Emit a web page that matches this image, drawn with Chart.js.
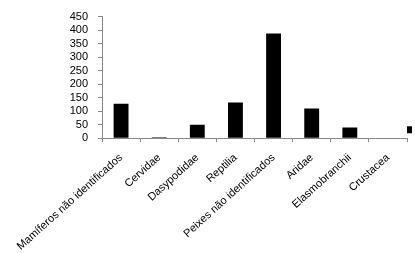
<!DOCTYPE html>
<html>
<head>
<meta charset="utf-8">
<script src="https://cdn.jsdelivr.net/npm/chart.js@4"></script>
<style>
  html, body { margin: 0; padding: 0; background: #fff; overflow: hidden; }
  #wrap { position: relative; width: 500px; height: 264px; }
</style>
</head>
<body>
<div id="wrap"><canvas id="chart"></canvas></div>
<script>
// categorias e valores
const categories = [
    'Mamíferos não identificados',
    'Cervidae',
    'Dasypodidae',
    'Reptilia',
    'Peixes não identificados',
    'Aridae',
    'Elasmobranchii',
    'Crustacea'
];
const counts = [127, 3, 50, 132, 387, 110, 39, 0];
const seriesName = 'Série1';

const chartConfig = {
    type: 'bar',
    data: {
        labels: categories,
        datasets: [{
            label: seriesName,
            data: counts,
            backgroundColor: '#000000',
            borderWidth: 0,
            barPercentage: 0.39,
            categoryPercentage: 1
        }]
    },
    options: {
        responsive: true,
        maintainAspectRatio: false,
        animation: false,
        layout: {
            padding: { left: 0, top: 8, right: 0, bottom: 2 }
        },
        plugins: {
            legend: {
                position: 'right',
                align: 'end',
                fullSize: false,
                labels: {
                    boxWidth: 8,
                    boxHeight: 7,
                    padding: -3,
                    color: '#000',
                    font: { family: 'Liberation Sans', size: 23 }
                }
            },
            tooltip: { enabled: false }
        },
        scales: {
            x: {
                grid: {
                    offset: true,
                    drawOnChartArea: false,
                    tickLength: 4,
                    color: '#888'
                },
                border: { color: '#888' },
                ticks: {
                    color: '#000',
                    maxRotation: 42,
                    minRotation: 42,
                    autoSkip: false,
                    padding: 9,
                    font: { family: 'Liberation Sans', size: 11 }
                }
            },
            y: {
                min: 0,
                max: 450,
                // largura fixa do eixo para alinhar a área do gráfico
                afterFit: function (scale) {
                    scale.width = 102;
                },
                grid: {
                    drawOnChartArea: false,
                    tickLength: 4,
                    color: '#888'
                },
                border: { color: '#888' },
                ticks: {
                    stepSize: 50,
                    autoSkip: false,
                    color: '#000',
                    padding: 10,
                    font: { family: 'Liberation Sans', size: 11 }
                }
            }
        }
    }
};

const chart = new Chart(document.getElementById('chart'), chartConfig);
</script>
</body>
</html>
